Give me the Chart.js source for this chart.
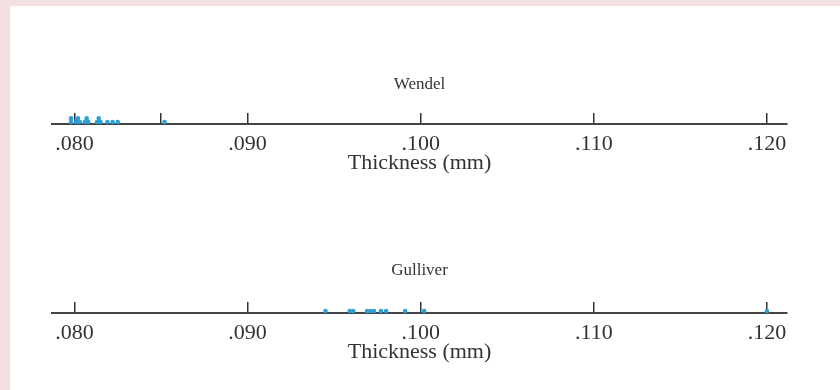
<!DOCTYPE html>
<html>
<head>
<meta charset="utf-8">
<script src="https://cdn.jsdelivr.net/npm/chart.js@4/dist/chart.umd.min.js"></script>
<style>
  body { margin: 0; background: #f3e0e2; width: 840px; height: 390px; overflow: hidden; }
  #panel { position: absolute; left: 10px; top: 6px; width: 830px; height: 384px; background: #fff; }
  canvas { position: absolute; left: 0; }
</style>
</head>
<body>
<div id="panel"></div>
<canvas id="wendel" width="840" height="190" style="top:0px"></canvas>
<canvas id="gulliver" width="840" height="200" style="top:190px"></canvas>
<script>
// thickness measurements (mm)
var wendel = [0.0798, 0.0798, 0.0801, 0.0802, 0.0803, 0.0806, 0.0807, 0.0808,
              0.0813, 0.0814, 0.0815, 0.0819, 0.0822, 0.0825, 0.0852];
var gulliver = [0.0945, 0.0959, 0.0961, 0.0969, 0.0971, 0.0973, 0.0977, 0.0980,
                0.0991, 0.1002, 0.1200];

var wendelTicks = [0.080, 0.085, 0.090, 0.100, 0.110, 0.120];
var wendelLabels = ['.080', '', '.090', '.100', '.110', '.120'];
var gulliverTicks = [0.080, 0.090, 0.100, 0.110, 0.120];
var gulliverLabels = ['.080', '.090', '.100', '.110', '.120'];

var axisTitle = 'Thickness (mm)';
var dotColor = '#2a9fd8';
var serif = "'Liberation Serif', 'DejaVu Serif', serif";

// stack dots that would overlap on the axis
function stackDots(vals) {
    var placed = [];
    var pts = [];
    vals.slice().sort(function (a, b) { return a - b; }).forEach(function (v) {
        var level = 0;
        while (placed.some(function (p) { return p.level == level && Math.abs(p.v - v) < 0.00018; })) level++;
        placed.push({ v: v, level: level });
        pts.push({ x: v, y: 2 + 3.6 * level });
    });
    return pts;
}

function dotPlot(id, name, vals, ticks, labels, titlePad, padBottom) {
    return new Chart(document.getElementById(id), {
        type: 'scatter',
        data: {
            datasets: [{
                data: stackDots(vals),
                pointStyle: 'circle',
                pointRadius: 2.3,
                pointBorderWidth: 0,
                backgroundColor: dotColor,
                borderColor: dotColor,
                clip: false
            }]
        },
        options: {
            responsive: false,
            animation: false,
            devicePixelRatio: 1,
            layout: { padding: { left: 52, right: 53, top: 0, bottom: padBottom } },
            plugins: {
                legend: { display: false },
                tooltip: { enabled: false },
                title: {
                    display: true,
                    text: name,
                    color: '#333',
                    font: { family: serif, size: 17, weight: 'normal' },
                    padding: titlePad
                }
            },
            scales: {
                x: {
                    type: 'linear',
                    min: 0.0787,
                    max: 0.12116,
                    afterBuildTicks: function (axis) {
                        axis.ticks = ticks.map(function (v) { return { value: v }; });
                    },
                    grid: { color: '#333', lineWidth: 1.5, drawTicks: false },
                    border: { display: true, color: '#444', width: 2 },
                    ticks: {
                        padding: 9,
                        color: '#333',
                        font: { family: serif, size: 22, lineHeight: 1 },
                        maxRotation: 0,
                        autoSkip: false,
                        callback: function (value, index) { return labels[index]; }
                    },
                    title: {
                        display: true,
                        text: axisTitle,
                        color: '#333',
                        font: { family: serif, size: 22, lineHeight: 1 },
                        padding: { top: -12, bottom: 0 }
                    }
                },
                y: { display: false, min: 0, max: 11 }
            }
        }
    });
}

dotPlot('wendel', 'Wendel', wendel, wendelTicks, wendelLabels, { top: 74, bottom: 18.6 }, 16);
dotPlot('gulliver', 'Gulliver', gulliver, gulliverTicks, gulliverLabels, { top: 70, bottom: 21.6 }, 27);
</script>
</body>
</html>
